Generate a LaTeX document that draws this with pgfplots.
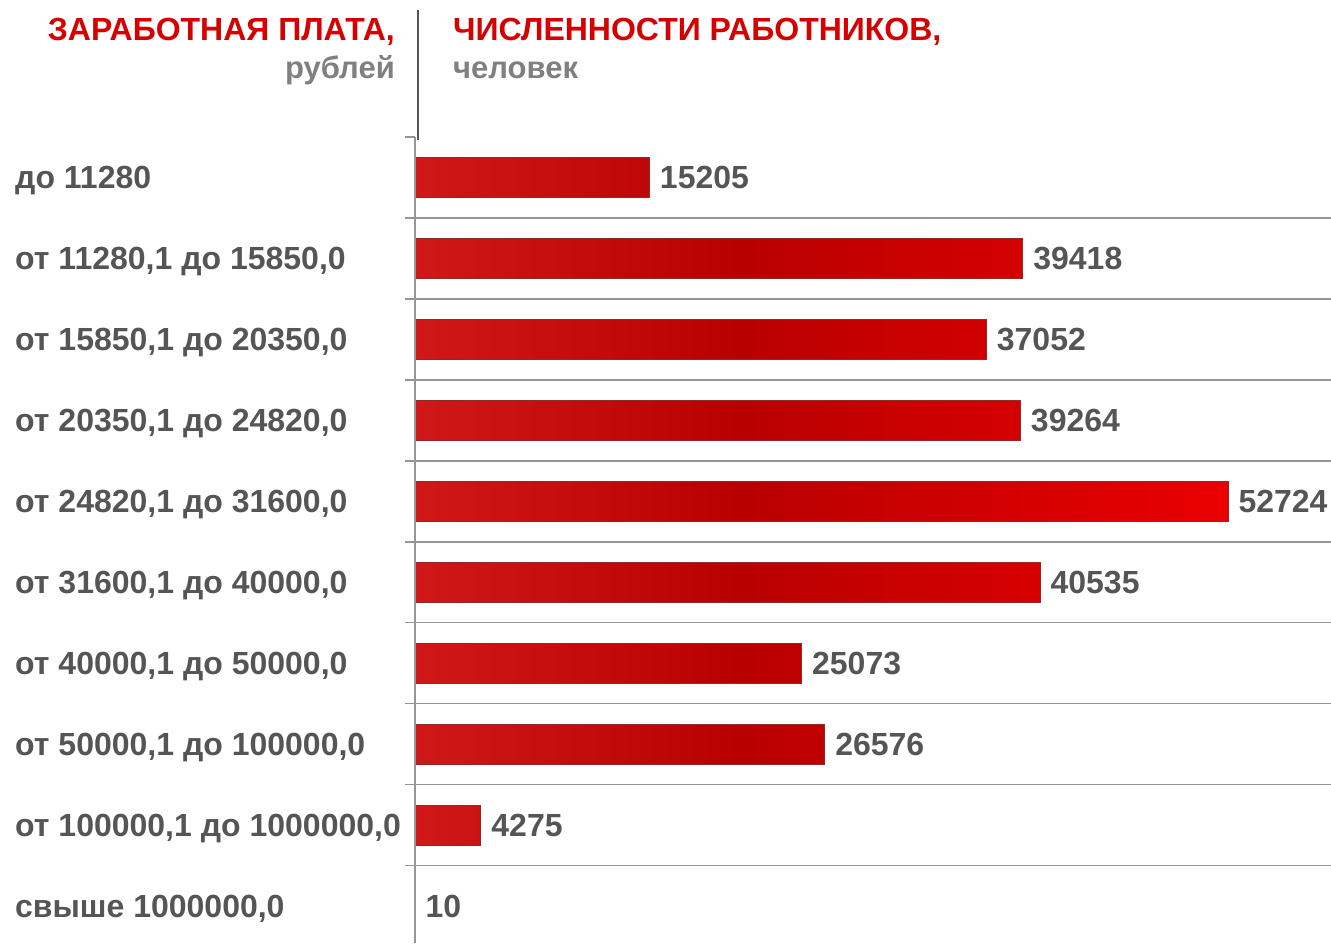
\documentclass[border=0pt]{standalone}
\usepackage{pgfplots}
\pgfplotsset{compat=1.18}
\usepackage{fontspec}
\setmainfont{Liberation Sans}
\definecolor{hdred}{RGB}{214,0,0}
\definecolor{lblgray}{RGB}{85,85,85}
\definecolor{subgray}{RGB}{128,128,128}
\definecolor{gridgray}{RGB}{150,150,150}
\definecolor{barA}{RGB}{208,24,24}
\definecolor{barB}{RGB}{184,0,0}
\definecolor{barC}{RGB}{234,0,0}
\definecolor{barEdge}{RGB}{150,40,40}
\pgfdeclarehorizontalshading{barshade}{100bp}{color(0bp)=(barA); color(25bp)=(barA); color(45bp)=(barB); color(75bp)=(barC); color(100bp)=(barC)}
\begin{document}
\begin{tikzpicture}
\path[use as bounding box] (0pt,0pt) rectangle (1331pt,-943pt);
% headers
\node[anchor=base east, inner sep=0pt, text=hdred, font=\fontsize{32}{38}\selectfont\bfseries] at (395pt,-40pt) {ЗАРАБОТНАЯ ПЛАТА,};
\node[anchor=base east, inner sep=0pt, text=subgray, font=\fontsize{31}{37}\selectfont\bfseries] at (395pt,-78pt) {рублей};
\node[anchor=base west, inner sep=0pt, text=hdred, font=\fontsize{32}{38}\selectfont\bfseries] at (453pt,-40pt) {ЧИСЛЕННОСТИ РАБОТНИКОВ,};
\node[anchor=base west, inner sep=0pt, text=subgray, font=\fontsize{31}{37}\selectfont\bfseries] at (453pt,-78pt) {человек};
\draw[lblgray, line width=1.5pt] (418pt,-10pt) -- (418pt,-140pt);
\begin{axis}[
  at={(415pt,-943pt)}, anchor=south west,
  width=916pt, height=806pt, scale only axis,
  xmin=0, xmax=59400, ymin=-0.5, ymax=9.457, y dir=reverse,
  axis x line=none, axis y line=left, axis on top,
  axis line style={-, gridgray, line width=1.5pt},
  clip=false,
  ytick={0,...,9},
  yticklabels={до 11280, от 11280{,}1 до 15850{,}0, от 15850{,}1 до 20350{,}0, от 20350{,}1 до 24820{,}0, от 24820{,}1 до 31600{,}0, от 31600{,}1 до 40000{,}0, от 40000{,}1 до 50000{,}0, от 50000{,}1 до 100000{,}0, от 100000{,}1 до 1000000{,}0, свыше 1000000{,}0},
  major tick length=0pt,
  minor ytick={0.5,1.5,...,8.5},
  yminorgrids,
  minor grid style={gridgray, line width=1.5pt},
  minor tick length=10pt, tick align=outside,
  tick style={gridgray, line width=1.5pt},
  extra y ticks={-0.5}, extra y tick labels={},
  extra y tick style={major tick length=10pt, grid=none},
  yticklabel style={anchor=base west, inner sep=0pt, xshift=-400pt, yshift=-11pt, text=lblgray, font=\fontsize{32}{38}\selectfont\bfseries},
]
\addplot[xbar, bar width=40pt, bar shift=0pt, shading=barshade, draw=barEdge, line width=1pt,
  point meta=explicit symbolic,
  nodes near coords,
  every node near coord/.append style={anchor=west, inner sep=0pt, xshift=10pt, text=lblgray, font=\fontsize{32}{38}\selectfont\bfseries}]
coordinates {
(15205,0) [15205]
(39418,1) [39418]
(37052,2) [37052]
(39264,3) [39264]
(52724,4) [52724]
(40535,5) [40535]
(25073,6) [25073]
(26576,7) [26576]
(4275,8) [4275]
(10,9) [10]
};
\end{axis}
\end{tikzpicture}
\end{document}
